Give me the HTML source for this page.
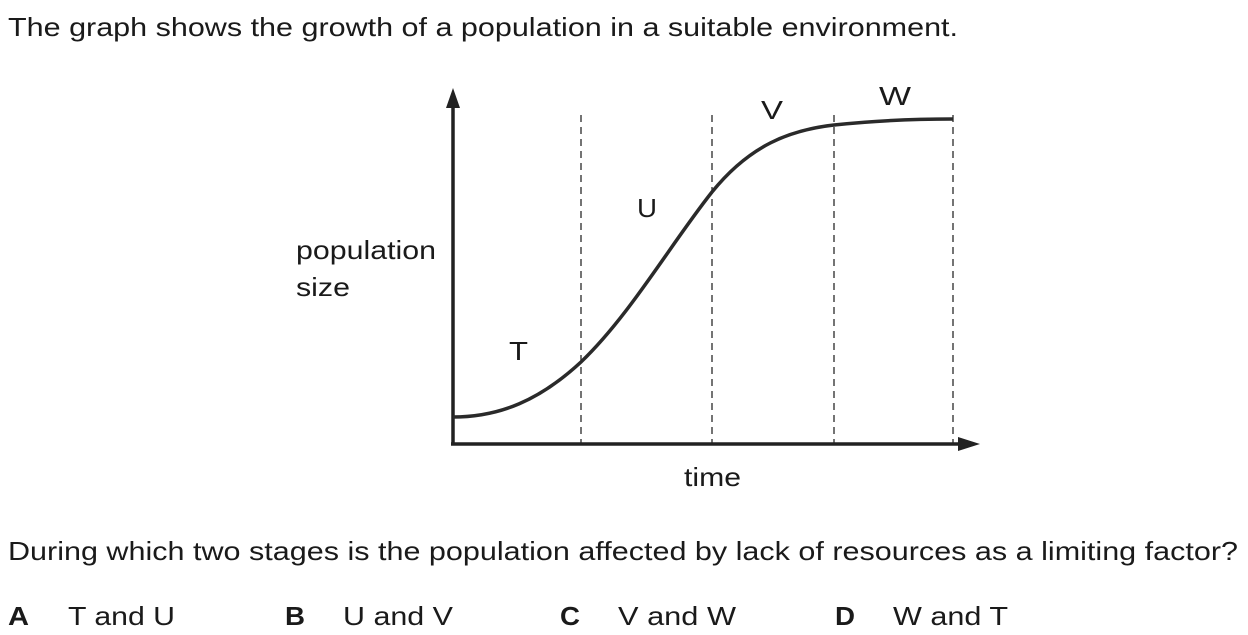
<!DOCTYPE html>
<html><head><meta charset="utf-8"><style>
html,body{margin:0;padding:0;background:#fff;}
svg{display:block;font-family:"Liberation Sans",Arial,sans-serif;}
text{fill:#1a1a1a;font-size:26px;}
</style></head><body>
<svg width="1248" height="635" viewBox="0 0 1248 635" xmlns="http://www.w3.org/2000/svg">
<text x="8" y="36" textLength="950" lengthAdjust="spacingAndGlyphs">The graph shows the growth of a population in a suitable environment.</text>
<g stroke="#2a2a2a" stroke-width="1.3" stroke-dasharray="7,5" fill="none">
<line x1="581" y1="115" x2="581" y2="443"/>
<line x1="712" y1="115" x2="712" y2="443"/>
<line x1="834" y1="115" x2="834" y2="443"/>
<line x1="953" y1="115" x2="953" y2="443"/>
</g>
<g stroke="#222" stroke-width="3.5" fill="none">
<line x1="453" y1="104" x2="453" y2="444"/>
<line x1="451" y1="444" x2="962" y2="444"/>
</g>
<polygon points="453,88 446,108 460,108" fill="#222"/>
<polygon points="980,444 958,437 958,451" fill="#222"/>
<path d="M453,417 C500,417 540,400 581,362 C630,315 670,245 712,192 C750,145 790,130 834,125 C880,120 920,119 953,119" stroke="#2a2a2a" stroke-width="3.5" fill="none"/>
<text x="509" y="360" textLength="19" lengthAdjust="spacingAndGlyphs">T</text>
<text x="637" y="217" textLength="20" lengthAdjust="spacingAndGlyphs">U</text>
<text x="761" y="119" textLength="22" lengthAdjust="spacingAndGlyphs">V</text>
<text x="879" y="105" textLength="32" lengthAdjust="spacingAndGlyphs">W</text>
<text x="296" y="259" textLength="140" lengthAdjust="spacingAndGlyphs">population</text>
<text x="296" y="296" textLength="54" lengthAdjust="spacingAndGlyphs">size</text>
<text x="684" y="486" textLength="57" lengthAdjust="spacingAndGlyphs">time</text>
<text x="8" y="560" textLength="1230" lengthAdjust="spacingAndGlyphs">During which two stages is the population affected by lack of resources as a limiting factor?</text>
<text x="8" y="625" font-weight="bold" textLength="21" lengthAdjust="spacingAndGlyphs">A</text><text x="68" y="625" textLength="107" lengthAdjust="spacingAndGlyphs">T and U</text>
<text x="285" y="625" font-weight="bold" textLength="20" lengthAdjust="spacingAndGlyphs">B</text><text x="343" y="625" textLength="110" lengthAdjust="spacingAndGlyphs">U and V</text>
<text x="560" y="625" font-weight="bold" textLength="20" lengthAdjust="spacingAndGlyphs">C</text><text x="618" y="625" textLength="118" lengthAdjust="spacingAndGlyphs">V and W</text>
<text x="835" y="625" font-weight="bold" textLength="20" lengthAdjust="spacingAndGlyphs">D</text><text x="893" y="625" textLength="115" lengthAdjust="spacingAndGlyphs">W and T</text>
</svg>
</body></html>
